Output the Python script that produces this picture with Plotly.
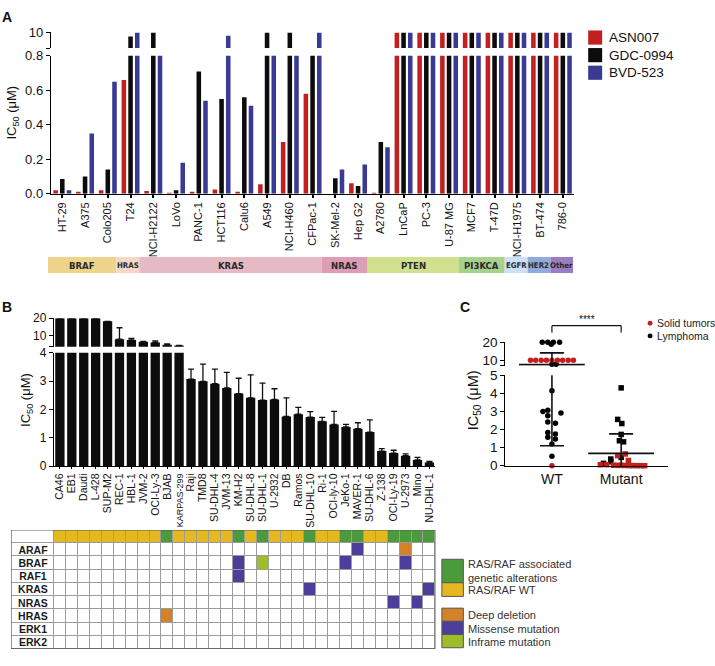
import numpy as np
import plotly.graph_objects as go

W, H = 715, 666
FONT = "Arial, Liberation Sans, Helvetica, sans-serif"
NARROW = "Liberation Sans Narrow, DejaVu Sans Condensed, Arial Narrow, Arial, sans-serif"

RED = "#C1201E"
BLACK = "#0c0c0c"
BLUE = "#3A3A94"


def px(x):
    return x / W


def py(y):
    return 1 - y / H


# ---------------- Panel A data ----------------
cell_lines_a = ["HT-29", "A375", "Colo205", "T24", "NCI-H2122", "LoVo", "PANC-1", "HCT116",
                "Calu6", "A549", "NCI-H460", "CFPac-1", "SK-Mel-2", "Hep G2", "A2780", "LnCaP",
                "PC-3", "U-87 MG", "MCF7", "T-47D", "NCI-H1975", "BT-474", "786-0"]
asn007 = [0.02, 0.005, 0.02, 0.66, 0.015, 0.003, 0.01, 0.025, 0.005, 0.055, 0.30, 0.58,
          0.0, 0.06, 0.003, 10, 10, 10, 10, 10, 10, 10, 10]
gdc0994 = [0.085, 0.10, 0.14, 7.6, 10, 0.02, 0.71, 0.55, 0.56, 10, 10, 0.9,
           0.09, 0.044, 0.30, 10, 10, 10, 10, 10, 10, 10, 10]
bvd523 = [0.02, 0.35, 0.65, 10, 0.9, 0.18, 0.54, 8.1, 0.51, 0.9, 0.9, 10,
          0.14, 0.17, 0.27, 10, 10, 10, 10, 10, 10, 10, 10]
compounds = ["ASN007", "GDC-0994", "BVD-523"]

mut_groups = ["BRAF", "HRAS", "KRAS", "NRAS", "PTEN", "PI3KCA", "EGFR", "HER2", "Other"]
mut_counts = [3, 1, 8, 2, 4, 2, 1, 1, 1]
mut_colors = ["#EDD48A", "#F3D7C8", "#E6BAC5", "#DC9DB5", "#D0E08E", "#A8D18D",
              "#CCE0F6", "#8FAADC", "#9B7DC1"]

# ---------------- Panel B data ----------------
lymphoma_lines = ["CA46", "EB1", "Daudi", "L-428", "SUP-M2", "REC-1", "HBL-1", "JVM-2",
                  "OCI-Ly-3", "BJAB", "KARPAS-299", "Raji", "TMD8", "SU-DHL-4", "JVM-13",
                  "KM-H2", "SU-DHL-8", "SU-DHL-1", "U-2932", "DB", "Ramos", "SU-DHL-10",
                  "Ri-1", "OCI-ly-10", "JeKo-1", "MAVER-1", "SU-DHL-6", "Z-138",
                  "OCI-Ly-19", "U-2973", "Mino", "NU-DHL-1"]
ic50_b = [20, 20, 20, 20, 18.2, 8.2, 7.8, 6.7, 6.4, 5.1, 4.6, 3.07, 2.99, 2.91, 2.76,
          2.56, 2.41, 2.33, 2.35, 1.75, 1.83, 1.73, 1.58, 1.47, 1.38, 1.32, 1.2, 0.53,
          0.46, 0.37, 0.22, 0.13]
sd_b = [0, 0, 0, 0, 0, 6.4, 0.9, 0.2, 0.8, 0.4, 0.1, 0.35, 0.61, 0.51, 0.55, 0.54,
        0.81, 0.6, 0.38, 0.66, 0.24, 0.19, 0.14, 0.46, 0.09, 0.21, 0.43, 0.09, 0.1,
        0.06, 0.09, 0.04]

genes = ["ARAF", "BRAF", "RAF1", "KRAS", "NRAS", "HRAS", "ERK1", "ERK2"]
alterations = [
    ("HRAS", "BJAB", "Deep deletion"),
    ("BRAF", "KM-H2", "Missense mutation"),
    ("RAF1", "KM-H2", "Missense mutation"),
    ("BRAF", "SU-DHL-1", "Inframe mutation"),
    ("KRAS", "SU-DHL-10", "Missense mutation"),
    ("BRAF", "JeKo-1", "Missense mutation"),
    ("ARAF", "MAVER-1", "Missense mutation"),
    ("NRAS", "OCI-Ly-19", "Missense mutation"),
    ("ARAF", "U-2973", "Deep deletion"),
    ("BRAF", "U-2973", "Missense mutation"),
    ("NRAS", "Mino", "Missense mutation"),
    ("KRAS", "NU-DHL-1", "Missense mutation"),
]
grid_classes = ["", "RAS/RAF WT", "RAS/RAF associated<br>genetic alterations",
                "Deep deletion", "Missense mutation", "Inframe mutation"]
grid_colors = ["#FFFFFF", "#E5B820", "#4B9A3B", "#D4822A", "#4B3F9B", "#9DBE2A"]

# ---------------- Panel C data ----------------
wt_lymphoma = [20, 20, 20, 20, 18.9, 7.8, 7.8, 4.14, 3.07, 2.99, 2.91, 2.76, 2.41, 2.35,
               1.83, 1.75, 1.58, 1.47, 1.2, 0.53]
wt_lymphoma_jit = [-0.14, -0.06, 0.02, 0.11, -0.01, 0.0, 0.06, 0.0, -0.06, -0.13, 0.13,
                   -0.06, -0.06, 0.05, -0.06, 0.05, -0.06, 0.05, 0.0, 0.0]
wt_solid = [10, 10, 10, 10, 10, 10, 10, 10, 10, 0.0]
wt_solid_jit = [-0.31, -0.235, -0.155, -0.08, 0.0, 0.08, 0.155, 0.235, 0.31, 0.0]
mut_lymphoma = [4.3, 2.56, 2.33, 1.73, 1.38, 1.32, 0.46, 0.37, 0.22, 0.13]
mut_lymphoma_jit = [0.0, -0.05, 0.01, 0.0, -0.025, 0.035, 0.0, -0.15, -0.15, -0.255]
mut_solid = [0.65, 0.56, 0.29, 0.06, 0.055, 0.025, 0.02, 0.02, 0.015, 0.01, 0.005,
             0.005, 0.003, 0.0]
mut_solid_jit = [0.06, -0.05, 0.105, -0.21, -0.3, -0.11, -0.055, 0.0, 0.055, 0.115,
                 0.17, 0.23, 0.29, 0.34]
group_labels = ["WT", "Mutant"]
group_means = [7.6, 0.68]
group_sds = [6.5, 1.08]

fig = go.Figure()

# ---------------- Panel A: grouped bars on a broken axis ----------------
bar_offsets = [-0.394, -0.1, 0.194]
for name, vals, color, off in zip(compounds, [asn007, gdc0994, bvd523],
                                  [RED, BLACK, BLUE], bar_offsets):
    for yax in ("y", "y2"):
        fig.add_trace(go.Bar(
            x=cell_lines_a, y=vals, name=name, xaxis="x", yaxis=yax,
            width=0.2, offset=off, marker=dict(color=color, line_width=0),
            hoverinfo="skip",
        ))

# mutation strip under panel A
starts = np.concatenate([[0], np.cumsum(mut_counts)[:-1]])
for g, c, s, col in zip(mut_groups, mut_counts, starts, mut_colors):
    fig.add_trace(go.Bar(
        x=[c], base=[s], y=[0], orientation="h", width=1, xaxis="x8", yaxis="y8",
        marker=dict(color=col, line_width=0), hoverinfo="skip",
    ))
    fig.add_annotation(
        x=s + c / 2, y=0, xref="x8", yref="y8", text=f"<b>{g}</b>", showarrow=False,
        font=dict(family=NARROW, size=9.5 if c > 1 else 7.8, color="#2a2a2a"),
    )

# ---------------- Panel B: bars on a broken axis ----------------
# error bars only on the segment where the bar top is visible
brk = 4
for yax, keep in (("y3", lambda v: v < brk), ("y4", lambda v: v >= brk)):
    errs = [e if keep(v) else None for v, e in zip(ic50_b, sd_b)]
    fig.add_trace(go.Bar(
        x=lymphoma_lines, y=ic50_b, xaxis="x3", yaxis=yax, width=0.78, offset=-0.39,
        marker=dict(color=BLACK, line_width=0), hoverinfo="skip",
        error_y=dict(type="data", array=errs, arrayminus=[0] * len(sd_b),
                     symmetric=False, color="#111", thickness=1.3, width=3),
    ))

# mutation grid
n_lines = len(lymphoma_lines)
z = np.zeros((len(genes) + 1, n_lines + 1))
text = [[""] * (n_lines + 1) for _ in range(len(genes) + 1)]
altered = {line for _, line, _ in alterations}
for j, line in enumerate(lymphoma_lines):
    z[0, j + 1] = 2 if line in altered else 1
for gene, line, kind in alterations:
    z[genes.index(gene) + 1, lymphoma_lines.index(line) + 1] = grid_classes.index(kind)
for i, g in enumerate(genes):
    text[i + 1][0] = f"<b>{g}</b>"

label_w = 3.63
ncls = len(grid_colors)
cscale = []
for k, col in enumerate(grid_colors):
    cscale.append([k / ncls, col])
    cscale.append([(k + 1) / ncls, col])
fig.add_trace(go.Heatmap(
    z=z, x=[-label_w] + list(range(n_lines + 1)), y=list(range(len(genes) + 2)),
    xaxis="x5", yaxis="y5", zmin=-0.5, zmax=ncls - 0.5, colorscale=cscale,
    showscale=False, xgap=1, ygap=1, text=text, texttemplate="%{text}",
    textfont=dict(family=FONT, size=10.5, color="#1a1a1a"), hoverinfo="skip",
))
fig.add_shape(type="rect", xref="x5", yref="y5", x0=-label_w, x1=n_lines, y0=0,
              y1=len(genes) + 1, fillcolor="#9c9c9c", line_width=0, layer="below")
fig.add_shape(type="rect", xref="x5", yref="y5", x0=-label_w, x1=n_lines, y0=0,
              y1=len(genes) + 1, line=dict(color="#5a5a5a", width=1.3), layer="above")

# ---------------- Panel C: dot plot ----------------
def split(vals, jit, center):
    up = [(center + j, v) for v, j in zip(vals, jit) if v >= 7]
    lo = [(center + j, v) for v, j in zip(vals, jit) if v <= 5]
    return up, lo


point_sets = [
    (wt_lymphoma, wt_lymphoma_jit, 0, "circle", "black"),
    (wt_solid, wt_solid_jit, 0, "circle", RED),
    (mut_lymphoma, mut_lymphoma_jit, 1, "square", "black"),
    (mut_solid, mut_solid_jit, 1, "square", RED),
]
for vals, jit, center, sym, col in point_sets:
    up, lo = split(vals, jit, center)
    for pts, yax in ((up, "y7"), (lo, "y6")):
        if not pts:
            continue
        fig.add_trace(go.Scatter(
            x=[p[0] for p in pts], y=[p[1] for p in pts], mode="markers",
            xaxis="x6", yaxis=yax, cliponaxis=False, hoverinfo="skip",
            marker=dict(symbol=sym, size=5.5, color=col, line_width=0),
        ))

for yax in ("y7", "y6"):
    fig.add_trace(go.Scatter(
        x=[0, 1], y=group_means, mode="markers", xaxis="x6", yaxis=yax,
        hoverinfo="skip",
        marker=dict(symbol="line-ew", size=47, line=dict(width=1.8, color="#111")),
        error_y=dict(type="data", array=group_sds, color="#111", thickness=1.6, width=12),
    ))

# significance bracket
for x0, x1, y0, y1 in ((0, 1, 326, 326), (0, 0, 326, 333), (1, 1, 326, 333)):
    fig.add_shape(type="line", xref="x6", yref="paper", x0=x0, x1=x1, y0=py(y0),
                  y1=py(y1), line=dict(color="#111", width=1.2))
fig.add_annotation(x=0.5, y=py(320), xref="x6", yref="paper", text="****",
                   showarrow=False, font=dict(size=10, color="#111"))

# ---------------- legends / labels ----------------
def square(x0, y0, x1, y1, color, border=None):
    fig.add_shape(type="rect", xref="paper", yref="paper", x0=px(x0), x1=px(x1),
                  y0=py(y1), y1=py(y0), fillcolor=color,
                  line=dict(color=border or color, width=1 if border else 0))


def label(x, y, txt, size, color="#111", anchor="left", bold=False, angle=0):
    fig.add_annotation(x=px(x), y=py(y), xref="paper", yref="paper",
                       text=f"<b>{txt}</b>" if bold else txt, showarrow=False,
                       xanchor=anchor, yanchor="middle", textangle=angle, align="left",
                       font=dict(family=FONT, size=size, color=color))


for i, (name, col) in enumerate(zip(compounds, [RED, BLACK, BLUE])):
    top = 24 + i * 18
    square(588, top, 602, top + 14.5, col)
    label(607, top + 7.5, name, 13.5)

leg_b = [(565, 589, 2, 577.5), (589, 603, 1, 596)]
for y0, y1, k, ty in leg_b:
    square(441.5, y0, 463, y1, grid_colors[k], "#555")
    label(466, ty, grid_classes[k], 11, "#333")
for i, k in enumerate([3, 4, 5]):
    y0 = 615 + i * 13.5
    square(441.5, y0, 463, y0 + 13.5, grid_colors[k], "#555")
    label(466, y0 + 7.5, grid_classes[k], 11, "#333")

fig.add_shape(type="circle", xref="paper", yref="paper", x0=px(647.5), x1=px(652.5),
              y0=py(326), y1=py(321), fillcolor=RED, line_width=0)
fig.add_shape(type="circle", xref="paper", yref="paper", x0=px(647.5), x1=px(652.5),
              y0=py(339), y1=py(334), fillcolor="black", line_width=0)
label(655, 323.5, "Solid tumors", 10.5, "#222")
label(655, 336.5, "Lymphoma", 10.5, "#222")

label(6, 10, "A", 14, bold=True, anchor="center")
label(6, 307, "B", 14, bold=True, anchor="center")
label(465, 307, "C", 14, bold=True, anchor="center")
label(12, 108, "IC<sub>50</sub> (μM)", 13, anchor="center", angle=-90)
label(26, 402, "IC<sub>50</sub> (μM)", 13, anchor="center", angle=-90)
label(474, 402, "IC<sub>50</sub> (μM)", 14.5, anchor="center", angle=-90)

# ---------------- axes ----------------
AX = dict(showline=True, linecolor="black", linewidth=1.3, showgrid=False,
          zeroline=False, ticks="outside", tickcolor="black", tickwidth=1.3, ticklen=4,
          tickfont=dict(family=FONT, color="#111"))
HIDE = dict(visible=False, showgrid=False, zeroline=False)

b_ticktext = [f'<span style="font-size:9px">{c}</span>' if len(c) > 9 else c
              for c in lymphoma_lines]

fig.update_layout(
    width=W, height=H, margin=dict(l=0, r=0, t=0, b=0),
    paper_bgcolor="white", plot_bgcolor="white", showlegend=False,
    barmode="overlay", font=dict(family=FONT, size=12, color="#111"),
    # panel A
    xaxis=dict(AX, domain=[px(50), px(574)], anchor="y", type="category",
               categoryorder="array", categoryarray=cell_lines_a, tickangle=-90,
               ticklen=3, tickwidth=1.8, tickfont=dict(family=FONT, size=11, color="#111")),
    yaxis=dict(AX, domain=[py(191), py(50)], anchor="x", range=[0, 0.8],
               tickvals=[0, 0.2, 0.4, 0.6, 0.8], tickformat=".1f",
               tickfont=dict(family=FONT, size=13, color="#111")),
    yaxis2=dict(AX, domain=[py(42), py(26)], anchor="x", range=[1, 10],
                tickvals=[1, 10], ticktext=["", "10"],
                tickfont=dict(family=FONT, size=13, color="#111")),
    xaxis8=dict(HIDE, domain=[px(47), px(573)], anchor="y8", range=[0, sum(mut_counts)]),
    yaxis8=dict(HIDE, domain=[py(272.5), py(255.5)], anchor="x8", range=[-0.5, 0.5]),
    # panel B
    xaxis3=dict(AX, domain=[px(53), px(435)], anchor="y3", type="category",
                categoryorder="array", categoryarray=lymphoma_lines,
                tickvals=lymphoma_lines, ticktext=b_ticktext, tickangle=-90, ticklen=2,
                tickfont=dict(family=FONT, size=10.5, color="#111")),
    yaxis3=dict(AX, domain=[py(469.7), py(353.7)], anchor="x3", range=[0, 4], dtick=1,
                tickfont=dict(family=FONT, size=12, color="#111")),
    yaxis4=dict(AX, domain=[py(347.5), py(318.3)], anchor="x3", range=[4, 20],
                tickvals=[4, 10, 20], ticktext=["", "10", "20"],
                tickfont=dict(family=FONT, size=12, color="#111")),
    xaxis5=dict(HIDE, domain=[px(10), px(435)], anchor="y5",
                range=[-label_w, n_lines]),
    yaxis5=dict(HIDE, domain=[py(656.7), py(535)], anchor="x5",
                range=[len(genes) + 1, 0]),
    # panel C
    xaxis6=dict(AX, domain=[px(505), px(668)], anchor="y6", range=[-0.674, 1.678],
                tickvals=[0, 1], ticktext=group_labels, ticks="",
                tickfont=dict(family=FONT, size=14, color="#111")),
    yaxis6=dict(AX, domain=[py(469.3), py(376.7)], anchor="x6", range=[0, 5], dtick=1,
                tickfont=dict(family=FONT, size=13.5, color="#111")),
    yaxis7=dict(AX, domain=[py(367), py(343)], anchor="x6", range=[7, 20],
                tickvals=[7, 10, 20], ticktext=["", "10", "20"],
                tickfont=dict(family=FONT, size=13.5, color="#111")),
)

# the page's default body margin would shift the figure by 8px
fig.write_html("out.html", config={"displayModeBar": False},
               post_script="document.body.style.margin='0';")
